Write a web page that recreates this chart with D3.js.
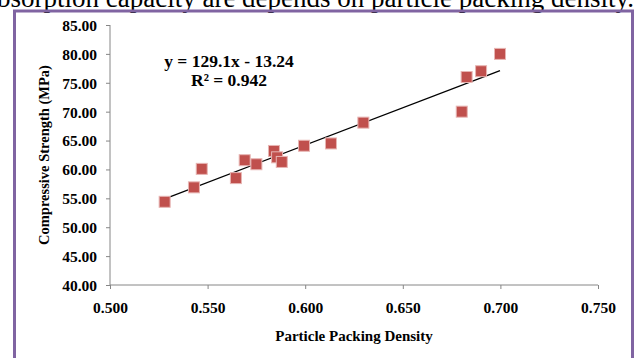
<!DOCTYPE html>
<html>
<head>
<meta charset="utf-8">
<script src="https://cdn.jsdelivr.net/npm/d3@7"></script>
<style>
  body { margin: 0; background: #fff; }
  svg { display: block; }
  .tick-label, .axis-title, .eqn { font-family: "Liberation Serif", "Times New Roman", serif; font-weight: bold; fill: #000; }
</style>
</head>
<body>
<div id="chart"></div>
<script>
// packing density vs compressive strength
const packingDensity = [0.528, 0.543, 0.547, 0.5645, 0.569, 0.575, 0.584, 0.5856, 0.588, 0.5994, 0.6132, 0.6298, 0.6802, 0.6827, 0.6901, 0.6998];
const strength = [54.4, 56.9, 60.1, 58.5, 61.6, 60.9, 63.2, 62.1, 61.3, 64.1, 64.5, 68.1, 70.0, 76.0, 77.0, 80.0];
const xTicks = [0.500, 0.550, 0.600, 0.650, 0.700, 0.750];
const yTicks = [40, 45, 50, 55, 60, 65, 70, 75, 80, 85];
const slope = 129.1;
const intercept = -13.24;
const eqnLines = ["y = 129.1x - 13.24", "R² = 0.942"];
const captionText = "absorption capacity are depends on particle packing density.";

const W = 638, H = 358;
const svg = d3.select('#chart').append('svg')
  .attr('width', W)
  .attr('height', H);

// bit of the paragraph above the figure (cut at the top, like the page crop)
svg.append('text')
  .attr('x', 634)
  .attr('y', 7)
  .attr('text-anchor', 'end')
  .style('font', '27px "Liberation Serif", serif')
  .text(captionText);

// purple frame
svg.append('rect')
  .attr('x', 14.5)
  .attr('y', 11)
  .attr('width', 618)
  .attr('height', 360)
  .attr('fill', 'none')
  .attr('stroke', '#8064A2')
  .attr('stroke-width', 3);

const xScale = d3.scaleLinear().domain([0.5, 0.75]).range([110, 598]);
const yScale = d3.scaleLinear().domain([40, 85]).range([285, 25]);

const axisColor = '#868686';

// y axis
const yAxis = svg.append('g')
  .attr('transform', 'translate(110,0)')
  .call(d3.axisLeft(yScale).tickValues(yTicks).tickSize(4).tickFormat(d3.format('.2f')));
yAxis.select('.domain').attr('stroke', axisColor).attr('d', `M0,${yScale(85)}V${yScale(40)}`);
yAxis.selectAll('.tick line').attr('stroke', axisColor);
yAxis.selectAll('.tick text')
  .attr('class', 'tick-label')
  .attr('x', -13)
  .attr('dy', '0.35em')
  .style('font-size', '15.5px');

// x axis
const xAxis = svg.append('g')
  .attr('transform', 'translate(0,285)')
  .call(d3.axisBottom(xScale).tickValues(xTicks).tickSize(4).tickFormat(d3.format('.3f')));
xAxis.select('.domain').attr('stroke', axisColor).attr('d', `M${xScale(0.5)},0H${xScale(0.75)}`);
xAxis.selectAll('.tick line').attr('stroke', axisColor);
xAxis.selectAll('.tick text')
  .attr('class', 'tick-label')
  .attr('y', 28)
  .attr('dy', 0)
  .style('font-size', '15.5px');

// axis titles
svg.append('text')
  .attr('class', 'axis-title')
  .attr('x', 354)
  .attr('y', 341)
  .attr('text-anchor', 'middle')
  .style('font-size', '15px')
  .text('Particle Packing Density');

svg.append('text')
  .attr('class', 'axis-title')
  .attr('transform', 'translate(49,155) rotate(-90)')
  .attr('text-anchor', 'middle')
  .style('font-size', '14.5px')
  .text('Compressive Strength (MPa)');

// linear trendline over the data range
const xExt = d3.extent(packingDensity);
svg.append('line')
  .attr('x1', xScale(xExt[0]))
  .attr('y1', yScale(slope * xExt[0] + intercept))
  .attr('x2', xScale(xExt[1]))
  .attr('y2', yScale(slope * xExt[1] + intercept))
  .attr('stroke', '#000')
  .attr('stroke-width', 1.3);

// markers
const pts = packingDensity.map((d, i) => ({ x: d, y: strength[i] }));
const ms = 11;
svg.selectAll('.pt')
  .data(pts)
  .enter().append('rect')
  .attr('class', 'pt')
  .attr('x', d => xScale(d.x) - ms / 2)
  .attr('y', d => yScale(d.y) - ms / 2)
  .attr('width', ms)
  .attr('height', ms)
  .attr('fill', '#C0504D')
  .attr('stroke', '#e7b5b3')
  .attr('stroke-width', 1);

// equation label
svg.selectAll('.eqn')
  .data(eqnLines)
  .enter().append('text')
  .attr('class', 'eqn')
  .attr('x', 229)
  .attr('y', (d, i) => 67 + i * 18.5)
  .attr('text-anchor', 'middle')
  .style('font-size', '17.5px')
  .text(d => d);
</script>
</body>
</html>
